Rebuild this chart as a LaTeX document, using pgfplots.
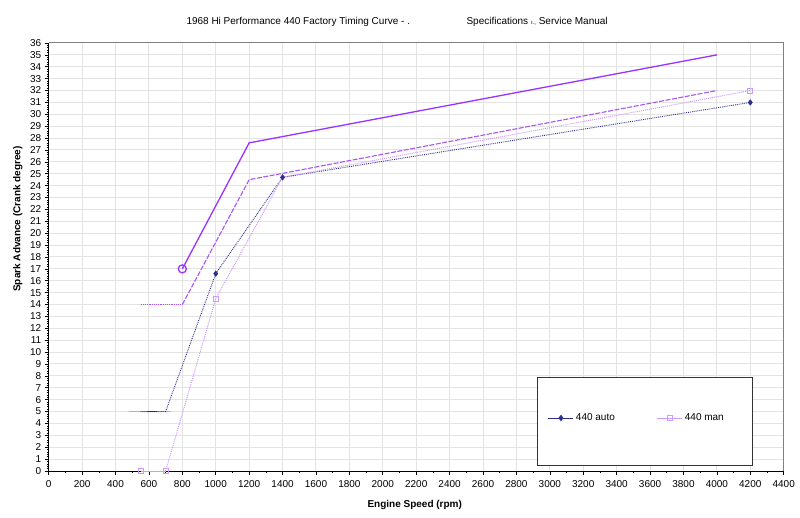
\documentclass[border=0pt]{standalone}
\usepackage{fontspec}
\setmainfont{Liberation Sans}
\usepackage{pgfplots}
\pgfplotsset{compat=1.18}
\definecolor{topv}{HTML}{9933FF}
\definecolor{midv}{HTML}{A855F7}
\definecolor{autoc}{HTML}{2E2E8C}
\definecolor{manc}{HTML}{CC99FF}
\definecolor{gridc}{HTML}{E3E3E3}
\begin{document}
\begin{tikzpicture}[x=1bp,y=1bp]
\begin{axis}[
  at={(0,0)}, anchor=south west,
  scale only axis, width=735bp, height=428bp,
  xmin=0, xmax=4400, ymin=0, ymax=36,
  xtick distance=200, ytick distance=1,
  minor x tick num=1, minor y tick num=4,
  axis lines=left, axis line style={-, black, line width=0.8bp},
  tick align=outside, tick style={black, line width=0.6bp},
  major tick length=4bp, minor tick length=2bp,
  grid=major, major grid style={gridc, line width=1bp},
  clip=false,
  /pgf/number format/assume math mode=true,
  /pgf/number format/1000 sep={},
  ticklabel style={font=\fontsize{10bp}{12bp}\selectfont},
  xticklabel style={yshift=-2bp},
  legend style={at={(rel axis cs:0.679,0.1238)}, anchor=west, draw=none, fill=none,
    font=\fontsize{10bp}{12bp}\selectfont, inner sep=0pt,
    nodes={inner sep=2bp}},
  legend columns=2,
  legend cell align=left,
  /tikz/every even column/.append style={column sep=40bp},
  legend image code/.code={\draw[mark repeat=2,mark phase=2,#1] plot coordinates {(0bp,0bp)(12.5bp,0bp)(25bp,0bp)};},
]
% top curve
\addplot[topv, line width=1.3bp, mark=o, mark size=4bp, mark indices={1}, forget plot]
  coordinates {(800,17)(1200,27.6)(4000,35)};
% second curve
\addplot[midv, dash pattern=on 1.2bp off 1bp, line width=1.2bp, forget plot]
  coordinates {(550,14)(800,14)};
\addplot[midv, line width=1.1bp, dash pattern=on 5bp off 1.5bp, forget plot]
  coordinates {(800,14)(1200,24.5)(4000,32)};
% 440 auto
\addplot[gray!60, line width=0.8bp, forget plot] coordinates {(480,5)(730,5)};
\addplot[autoc, line width=1bp, forget plot] coordinates {(590,5)(650,5)};
\addplot[autoc, densely dotted, line width=0.9bp, mark=diamond*, mark size=2.5bp,
  mark indices={3,4,5}, mark options={solid}, forget plot]
  coordinates {(550,5)(700,5)(1000,16.6)(1400,24.7)(4200,31)};
% 440 man
\addplot[manc, line width=0.9bp, mark=square, mark size=2.5bp, mark options={solid}, forget plot]
  coordinates {(550,0)(700,0)};
\addplot[manc, densely dotted, line width=1bp, mark=square, mark size=2.5bp,
  mark indices={2,4}, mark options={solid}, forget plot]
  coordinates {(700,0)(1000,14.5)(1400,24.7)(4200,32)};
% frame on top and right
\draw[gray, line width=1bp] (rel axis cs:0,1) -- (rel axis cs:1,1) -- (rel axis cs:1,0);
% legend box
\draw[black!80, fill=white, line width=1bp] (rel axis cs:0.6657,0.014) rectangle (rel axis cs:0.9569,0.2173);
\addlegendimage{autoc, line width=1bp, mark=diamond*, mark size=2.5bp}
\addlegendentry{440 auto}
\addlegendimage{manc, line width=1bp, mark=square, mark size=2.5bp}
\addlegendentry{440 man}
% titles and labels
\node[anchor=west, font=\fontsize{10bp}{12bp}\selectfont] at (rel axis cs:0.1827,1.049) {1968 Hi Performance 440 Factory Timing Curve - .};
\node[anchor=west, font=\fontsize{10bp}{12bp}\selectfont] at (rel axis cs:0.5637,1.049) {Specifications {\fontsize{6bp}{7bp}\selectfont ı.,} Service Manual};
\node[font=\fontsize{10bp}{12bp}\selectfont\bfseries] at (rel axis cs:0.498,-0.079) {Engine Speed (rpm)};
\node[rotate=90, font=\fontsize{10bp}{12bp}\selectfont\bfseries] at (rel axis cs:-0.042,0.589) {Spark Advance (Crank degree)};
\end{axis}
\path (-48.7bp,-47bp) rectangle (751.3bp,471bp);
\end{tikzpicture}
\end{document}
